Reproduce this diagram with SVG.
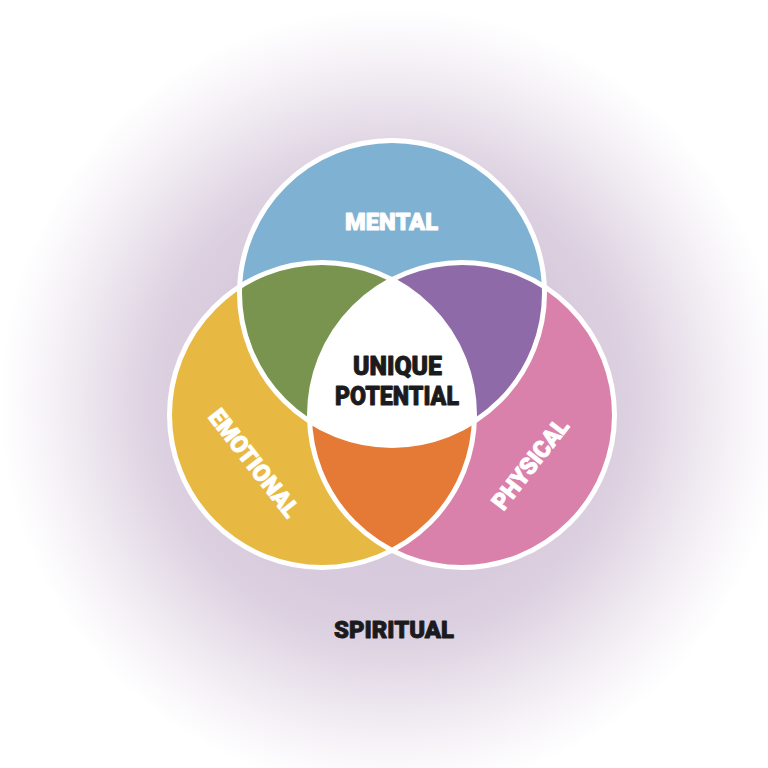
<svg xmlns="http://www.w3.org/2000/svg" width="768" height="768" viewBox="0 0 768 768">
  <defs>
    <radialGradient id="glow" gradientUnits="userSpaceOnUse" cx="392" cy="400" r="392">
      <stop offset="0" stop-color="#d4c5d8"/>
      <stop offset="0.5" stop-color="#d8cbdd"/>
      <stop offset="0.62" stop-color="#ddd2e1"/>
      <stop offset="0.77" stop-color="#ece5ee"/>
      <stop offset="0.9" stop-color="#f8f5f9"/>
      <stop offset="1" stop-color="#ffffff"/>
    </radialGradient>
    <clipPath id="clipM"><circle cx="392" cy="293" r="152.5"/></clipPath>
    <clipPath id="clipE"><circle cx="322" cy="415" r="152.5"/></clipPath>
    <clipPath id="clipP"><circle cx="462" cy="415" r="152.5"/></clipPath>
  </defs>
  <style>
    .ring { fill: none; stroke: #ffffff; stroke-width: 5; }
    .lbl { font-family: Roboto, "Liberation Sans", "DejaVu Sans", sans-serif; font-weight: 900; font-size: 24px; text-anchor: middle; stroke-width: 0.9; stroke-linejoin: round; }
    .light { fill: #ffffff; stroke: #ffffff; }
    .dark { fill: #1b1a1c; stroke: #1b1a1c; }
  </style>

  <rect x="0" y="0" width="768" height="768" fill="url(#glow)"/>

  <g id="mental">
    <circle cx="392" cy="293" r="152.5" fill="#7fb1d3"/>
  </g>
  <g id="emotional">
    <circle cx="322" cy="415" r="152.5" fill="#e8b942"/>
  </g>
  <g id="physical">
    <circle cx="462" cy="415" r="152.5" fill="#d981aa"/>
  </g>
  <g id="overlaps">
    <g clip-path="url(#clipM)"><circle cx="322" cy="415" r="152.5" fill="#78944e"/></g>
    <g clip-path="url(#clipM)"><circle cx="462" cy="415" r="152.5" fill="#8e6ba8"/></g>
    <g clip-path="url(#clipE)"><circle cx="462" cy="415" r="152.5" fill="#e57a36"/></g>
    <g clip-path="url(#clipM)"><g clip-path="url(#clipE)"><circle cx="462" cy="415" r="152.5" fill="#ffffff"/></g></g>
  </g>
  <g id="rings">
    <circle class="ring" cx="392" cy="293" r="152.5"/>
    <circle class="ring" cx="322" cy="415" r="152.5"/>
    <circle class="ring" cx="462" cy="415" r="152.5"/>
  </g>

  <g id="labels">
    <text class="lbl light" x="391.5" y="230" textLength="93" lengthAdjust="spacingAndGlyphs">MENTAL</text>
    <text class="lbl light" transform="translate(254,463) rotate(52)" x="0" y="8.5" textLength="130" lengthAdjust="spacingAndGlyphs">EMOTIONAL</text>
    <text class="lbl light" transform="translate(530,464) rotate(-52)" x="0" y="8.5" textLength="108" lengthAdjust="spacingAndGlyphs">PHYSICAL</text>
    <text class="lbl dark" style="font-size:25px" x="397.5" y="375" textLength="89" lengthAdjust="spacingAndGlyphs">UNIQUE</text>
    <text class="lbl dark" style="font-size:25px" x="397" y="405" textLength="124" lengthAdjust="spacingAndGlyphs">POTENTIAL</text>
    <text class="lbl dark" x="394" y="638" textLength="120" lengthAdjust="spacingAndGlyphs">SPIRITUAL</text>
  </g>
</svg>
